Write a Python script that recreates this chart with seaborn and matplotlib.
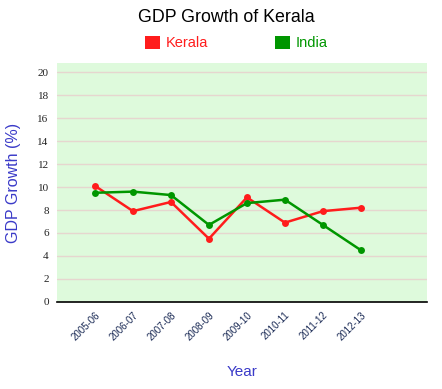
"""GDP growth of Kerala vs India, line chart."""

import matplotlib.pyplot as plt
import pandas as pd
import seaborn as sns
from matplotlib.patches import Patch

YEARS = ["2005-06", "2006-07", "2007-08", "2008-09",
         "2009-10", "2010-11", "2011-12", "2012-13"]
KERALA = [10.1, 7.9, 8.7, 5.5, 9.1, 6.9, 7.9, 8.2]
INDIA = [9.5, 9.6, 9.3, 6.7, 8.6, 8.9, 6.7, 4.5]
Y_TICKS = list(range(0, 21, 2))

RED = "#ff1c1c"
GREEN = "#009600"
LABEL_BLUE = "#3a3ac8"

sns.set_style("white")
plt.rcParams["font.family"] = ["Liberation Sans", "DejaVu Sans"]

df = pd.DataFrame({
    "year": YEARS * 2,
    "pos": list(range(len(YEARS))) * 2,
    "growth": KERALA + INDIA,
    "region": ["Kerala"] * len(YEARS) + ["India"] * len(YEARS),
})

fig = plt.figure(figsize=(4.42, 3.89), dpi=100)
ax = fig.add_axes([0.129, 0.224, 0.837, 0.614])
ax.set_facecolor("#defadc")

sns.lineplot(data=df, x="pos", y="growth", hue="region",
             palette={"Kerala": RED, "India": GREEN},
             hue_order=["Kerala", "India"],
             marker="o", markersize=5, markeredgewidth=0,
             linewidth=1.8, legend=False, ax=ax)

ax.set_xlim(-1, 8.74)
ax.set_ylim(0, 20.8)
ax.set_yticks(Y_TICKS)
ax.set_yticklabels([str(t) for t in Y_TICKS], fontfamily="Liberation Serif",
                   fontsize=8, color="#222222")
ax.set_xticks(range(len(YEARS)))
ax.set_xticklabels(YEARS, rotation=45, ha="right", rotation_mode="anchor",
                   fontsize=7, color="#1a2a55")
ax.tick_params(axis="both", length=0, pad=6)
ax.yaxis.grid(True, color="#e6d6cf", linewidth=1)
ax.set_axisbelow(True)
for side in ["left", "right", "top"]:
    ax.spines[side].set_visible(False)
ax.spines["bottom"].set_color("black")
ax.spines["bottom"].set_linewidth(1.2)

ax.set_xlabel("Year", fontsize=11, color=LABEL_BLUE, labelpad=16)
ax.set_ylabel("GDP Growth (%)", fontsize=11.5, color=LABEL_BLUE, labelpad=12)

fig.text(0.512, 0.955, "GDP Growth of Kerala", ha="center", va="center",
         fontsize=12.8, color="black")

handles = [Patch(facecolor=RED, edgecolor="none", label="Kerala"),
           Patch(facecolor=GREEN, edgecolor="none", label="India")]
fig.legend(handles=handles, loc="center", bbox_to_anchor=(0.535, 0.89),
           ncol=2, frameon=False, fontsize=10.5, handlelength=1.0,
           handleheight=1.0, handletextpad=0.4, columnspacing=4.6,
           labelcolor=[RED, GREEN])

fig.savefig("out.png", dpi=100)
